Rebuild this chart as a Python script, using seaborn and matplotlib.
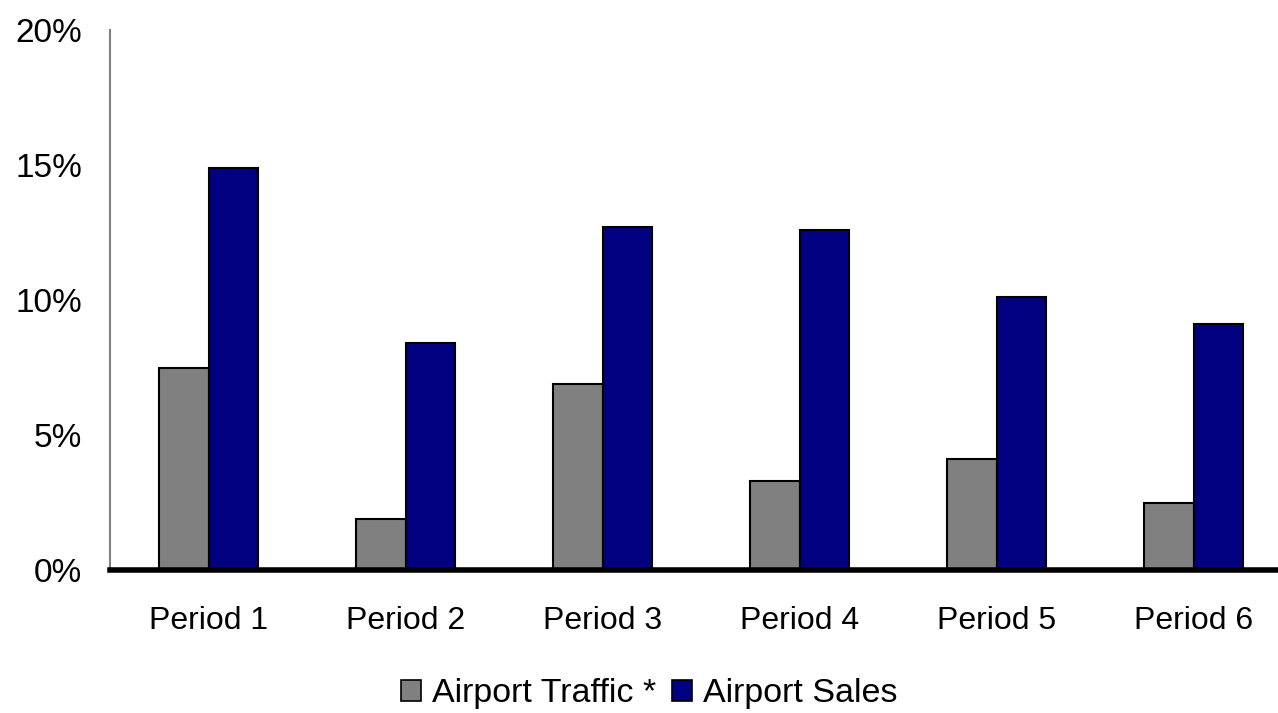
import matplotlib
matplotlib.use("Agg")
import matplotlib.pyplot as plt
import seaborn as sns
import pandas as pd
from matplotlib.patches import Patch

periods = ["Period 1", "Period 2", "Period 3", "Period 4", "Period 5", "Period 6"]
airport_traffic = [7.5, 1.9, 6.9, 3.3, 4.1, 2.5]
airport_sales = [14.9, 8.4, 12.7, 12.6, 10.1, 9.1]
series_names = ["Airport Traffic *", "Airport Sales"]
y_ticks = [0, 5, 10, 15, 20]
colors = ["#808080", "#000080"]

df = pd.DataFrame({
    "Period": periods * 2,
    "Series": [series_names[0]] * len(periods) + [series_names[1]] * len(periods),
    "Value": airport_traffic + airport_sales,
})

sns.set_style("white")
plt.rcParams["font.family"] = ["Liberation Sans", "DejaVu Sans"]
plt.rcParams["text.color"] = "black"
plt.rcParams["xtick.color"] = "black"
plt.rcParams["ytick.color"] = "black"

fig = plt.figure(figsize=(12.78, 7.13), dpi=100)
# plot area runs past the right edge of the canvas
ax = fig.add_axes([110 / 1278, 143 / 713, 6 * 197 / 1278, 540 / 713])

sns.barplot(data=df, x="Period", y="Value", hue="Series", palette=colors,
            width=0.5, edgecolor="black", linewidth=1.5, ax=ax, legend=False,
            saturation=1)

ax.set_ylim(0, 20)
ax.set_xlim(-0.5, 5.5)
ax.set_yticks(y_ticks)
ax.set_yticklabels([f"{t}%" for t in y_ticks], fontsize=24)
ax.tick_params(axis="x", labelsize=23, length=0, pad=26)
ax.tick_params(axis="y", length=0, pad=20)
ax.set_xlabel("")
ax.set_ylabel("")

for side in ["top", "right"]:
    ax.spines[side].set_visible(False)
ax.spines["left"].set_color("#808080")
ax.spines["left"].set_linewidth(1.5)
ax.spines["bottom"].set_color("black")
ax.spines["bottom"].set_linewidth(4)
ax.spines["bottom"].set_zorder(5)

handles = [Patch(facecolor=c, edgecolor="black", linewidth=1.2) for c in colors]
fig.legend(handles, series_names, loc="center", bbox_to_anchor=(0.508, 0.027),
           ncol=2, frameon=False, fontsize=24.5, handlelength=0.58, handleheight=0.58,
           handletextpad=0.32, columnspacing=0.47, borderpad=0)

fig.savefig("out.png", dpi=100)
